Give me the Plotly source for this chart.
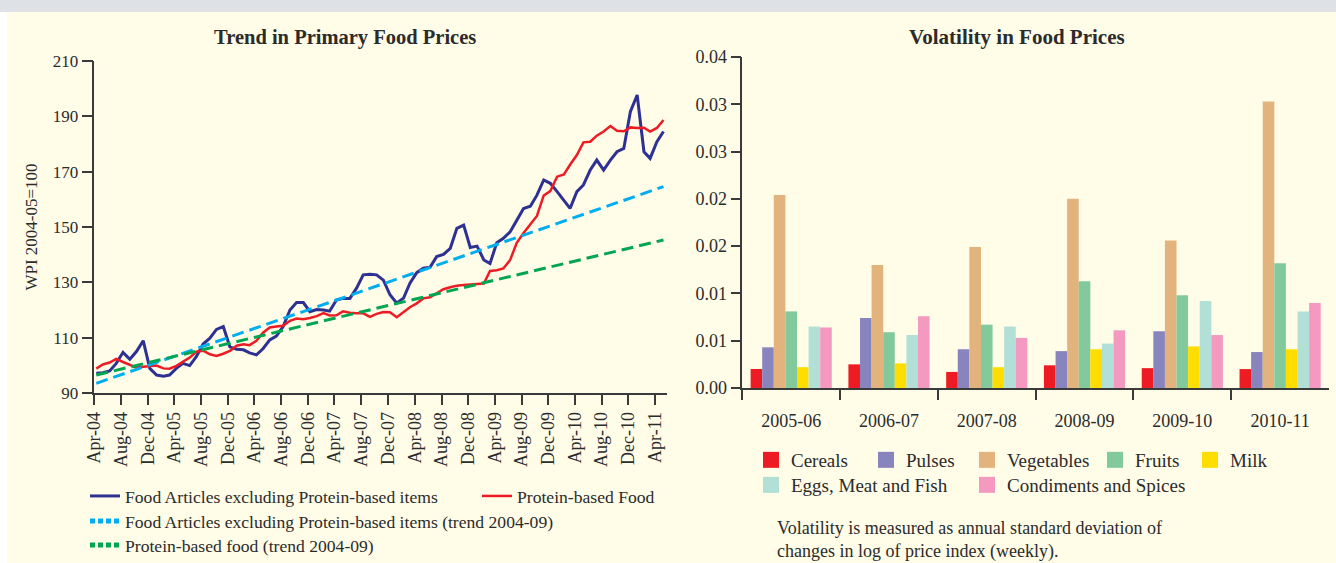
import pandas as pd
import plotly.graph_objects as go

# ---------------- data: left panel (monthly WPI, 2004-05=100) ----------------
months = pd.date_range("2004-04-01", periods=86, freq="MS") + pd.Timedelta(days=9)

food_excl_protein = [
    97.1, 97.3, 98.0, 100.7, 104.7, 102.2, 105.0, 108.9, 98.9, 96.5,
    96.1, 96.5, 98.9, 100.7, 99.9, 103.1, 107.7, 109.8, 113.0, 114.0,
    106.7, 105.8, 105.6, 104.5, 103.8, 106.0, 109.2, 110.6, 114.0, 120.0,
    122.7, 122.7, 119.4, 120.2, 120.0, 119.6, 123.6, 124.2, 124.2, 127.8,
    132.7, 132.9, 132.7, 130.8, 125.5, 122.5, 124.3, 129.7, 133.5, 135.1,
    135.5, 139.3, 140.1, 142.3, 149.5, 150.7, 142.6, 143.1, 138.1, 136.8,
    144.3, 145.9, 148.3, 152.5, 156.7, 157.5, 161.5, 167.0, 165.8, 162.8,
    159.8, 156.7, 162.8, 165.2, 170.6, 174.2, 170.6, 174.2, 177.2, 178.4,
    191.7, 197.7, 177.2, 174.8, 180.8, 184.5,
]
protein_food = [
    98.8, 100.3, 101.0, 102.3, 101.2, 100.2, 99.2, 99.5, 99.8, 99.9,
    98.9, 98.8, 99.8, 101.3, 102.8, 104.9, 105.3, 104.0, 103.4, 104.2,
    105.2, 107.1, 107.6, 107.3, 108.9, 111.8, 113.7, 114.0, 114.3, 116.1,
    116.9, 116.7, 117.1, 117.8, 118.9, 118.0, 118.1, 119.5, 119.0, 118.8,
    118.8, 117.5, 118.6, 119.3, 119.2, 117.4, 119.3, 121.0, 122.4, 124.2,
    124.6, 126.0, 127.5, 128.2, 128.8, 129.0, 129.3, 129.4, 129.6, 134.1,
    134.4, 135.0, 138.1, 144.3, 147.8, 151.0, 154.0, 161.4, 163.0, 168.2,
    169.0, 172.5, 176.0, 180.6, 180.8, 183.0, 184.5, 186.5, 184.8, 184.6,
    186.0, 185.8, 185.9, 184.5, 185.8, 188.7,
]
trend_dates = [months[0], months[-1]]
trend_food_excl = [93.5, 164.6]
trend_protein = [96.5, 145.3]

# ---------------- data: right panel (volatility) ----------------
years = ["2005-06", "2006-07", "2007-08", "2008-09", "2009-10", "2010-11"]
cereals = [0.0020, 0.0025, 0.0017, 0.0024, 0.0021, 0.0020]
pulses = [0.0043, 0.0074, 0.0041, 0.0039, 0.0060, 0.0038]
vegetables = [0.0204, 0.0130, 0.0149, 0.0200, 0.0156, 0.0303]
fruits = [0.0081, 0.0059, 0.0067, 0.0113, 0.0098, 0.0132]
milk = [0.0022, 0.0026, 0.0022, 0.0041, 0.0044, 0.0041]
eggs_meat_fish = [0.0065, 0.0056, 0.0065, 0.0047, 0.0092, 0.0081]
condiments = [0.0064, 0.0076, 0.0053, 0.0061, 0.0056, 0.0090]
vol_tickvals = [0, 0.005, 0.010, 0.015, 0.020, 0.025, 0.030, 0.035]
vol_ticktext = ["0.00", "0.01", "0.01", "0.02", "0.02", "0.03", "0.03", "0.04"]

# ---------------- figure ----------------
W, H = 1336, 563
FONT = "Liberation Serif"
TXT = "#2b2b2b"
AX = "#3a3a3a"
BG = "#FFFCE8"
C_FOOD, C_PROT, C_TF, C_TP = "#2E3192", "#ED1C24", "#00AEEF", "#00A651"

def px(x):
    return x / W

def py(y):
    return (H - y) / H

fig = go.Figure()

fig.add_trace(go.Scatter(x=months, y=food_excl_protein, mode="lines",
                         name="Food Articles excluding Protein-based items",
                         line=dict(color=C_FOOD, width=3), legend="legend"))
fig.add_trace(go.Scatter(x=months, y=protein_food, mode="lines",
                         name="Protein-based Food",
                         line=dict(color=C_PROT, width=2.5), legend="legend6"))
fig.add_trace(go.Scatter(x=trend_dates, y=trend_food_excl, mode="lines",
                         name="Food Articles excluding Protein-based items (trend 2004-09)",
                         line=dict(color=C_TF, width=3, dash="12px,6px"), showlegend=False))
fig.add_trace(go.Scatter(x=trend_dates, y=trend_protein, mode="lines",
                         name="Protein-based food (trend 2004-09)",
                         line=dict(color=C_TP, width=3, dash="12px,6px"), showlegend=False))
# dotted legend keys for the trend lines
fig.add_trace(go.Scatter(x=[None], y=[None], mode="lines",
                         name="Food Articles excluding Protein-based items (trend 2004-09)",
                         line=dict(color=C_TF, width=5, dash="5px,3px"), legend="legend2", hoverinfo="skip"))
fig.add_trace(go.Scatter(x=[None], y=[None], mode="lines",
                         name="Protein-based food (trend 2004-09)",
                         line=dict(color=C_TP, width=5, dash="5px,3px"), legend="legend3", hoverinfo="skip"))

# (name, values, colour, legend id, legend text x, legend row y)
bar_series = [
    ("Cereals", cereals, "#ED1C24", "legend4", 793, 460),
    ("Pulses", pulses, "#8884BE", "legend5", 908, 460),
    ("Vegetables", vegetables, "#E2B37C", "legend7", 1009, 460),
    ("Fruits", fruits, "#82CA9C", "legend8", 1137, 460),
    ("Milk", milk, "#FFDD00", "legend9", 1232, 460),
    ("Eggs, Meat and Fish", eggs_meat_fish, "#B2DFD6", "legend10", 793, 485),
    ("Condiments and Spices", condiments, "#F49AC1", "legend11", 1009, 485),
]
for name, vals, col, lg, _, _ in bar_series:
    fig.add_trace(go.Bar(x=years, y=vals, name=name, marker=dict(color=col, line=dict(width=0)),
                         xaxis="x2", yaxis="y2", showlegend=False))
    # legend key (square swatch) for the series
    fig.add_trace(go.Scatter(x=[None], y=[None], mode="markers", name=name,
                             marker=dict(symbol="square", size=16, color=col, line=dict(width=0)),
                             xaxis="x2", yaxis="y2", legend=lg, hoverinfo="skip"))

lfont = dict(family=FONT, size=17, color=TXT)
rfont = dict(family=FONT, size=18, color=TXT)
leg_l = dict(family=FONT, size=17.6, color=TXT)
leg_r = dict(family=FONT, size=19, color=TXT)

common_axis = dict(ticks="outside", tickcolor=AX, tickwidth=1.5, showline=True, linecolor=AX,
                   linewidth=1.5, showgrid=False, zeroline=False, automargin=False)

def leg(x_left, y_mid, font):
    return dict(orientation="h", x=px(x_left), y=py(y_mid), xanchor="left", yanchor="middle",
                bgcolor="rgba(0,0,0,0)", font=font)

legends = {
    "legend": leg(85, 496, leg_l),
    "legend6": leg(477, 496, leg_l),
    "legend2": leg(85, 521, leg_l),
    "legend3": leg(85, 545, leg_l),
}
for name, vals, col, lg, tx, ty in bar_series:
    legends[lg] = leg(tx - 42, ty, leg_r)

fig.update_layout(
    width=W, height=H, autosize=False,
    margin=dict(l=0, r=0, t=0, b=0, pad=0, autoexpand=False),
    paper_bgcolor=BG, plot_bgcolor=BG,
    barmode="group", bargap=0.17, bargroupgap=0,
    xaxis=dict(domain=[px(94.3), px(667)], type="date",
               range=["2004-04-01", "2011-05-26"],
               tick0="2004-04-01", dtick="M4", tickformat="%b-%y", tickangle=-90,
               ticklen=10, tickfont=dict(family=FONT, size=18, color=TXT), **common_axis),
    yaxis=dict(domain=[py(393), py(61)], range=[90, 210], tick0=90, dtick=20, ticklen=11,
               tickfont=lfont,
               title=dict(text="WPI 2004-05=100", font=dict(family=FONT, size=17, color=TXT), standoff=11),
               **common_axis),
    xaxis2=dict(domain=[px(742.3), px(1329)], anchor="y2", type="category",
                tickson="boundaries", ticklen=10, ticklabelstandoff=16, tickfont=rfont, **common_axis),
    yaxis2=dict(domain=[py(388), py(57)], anchor="x2", range=[0, 0.035],
                tickvals=vol_tickvals, ticktext=vol_ticktext, ticklen=10, tickfont=rfont, **common_axis),
    showlegend=True,
    annotations=[
        dict(text="<b>Trend in Primary Food Prices</b>", x=px(345), y=py(37), xref="paper", yref="paper",
             xanchor="center", yanchor="middle",
             showarrow=False, font=dict(family=FONT, size=20.5, color=TXT)),
        dict(text="<b>Volatility in Food Prices</b>", x=px(1017), y=py(37), xref="paper", yref="paper",
             xanchor="center", yanchor="middle",
             showarrow=False, font=dict(family=FONT, size=21, color=TXT)),
        dict(text="Volatility is measured as annual standard deviation of<br>changes in log of price index (weekly).",
             x=px(775), y=py(540), xref="paper", yref="paper", xanchor="left", yanchor="middle",
             align="left", showarrow=False, font=dict(family=FONT, size=18, color=TXT)),
    ],
    shapes=[
        dict(type="rect", xref="paper", yref="paper", x0=0, x1=1, y0=py(12), y1=1,
             fillcolor="#DEE2E6", line=dict(width=0), layer="below"),
        dict(type="rect", xref="paper", yref="paper", x0=0, x1=px(7), y0=0, y1=py(12),
             fillcolor="#FFFFFF", line=dict(width=0), layer="below"),
    ],
    **legends,
)

fig.write_html("out.html", config={"responsive": False, "displayModeBar": False},
               post_script="document.body.style.margin='0px';document.body.style.overflow='hidden';")
